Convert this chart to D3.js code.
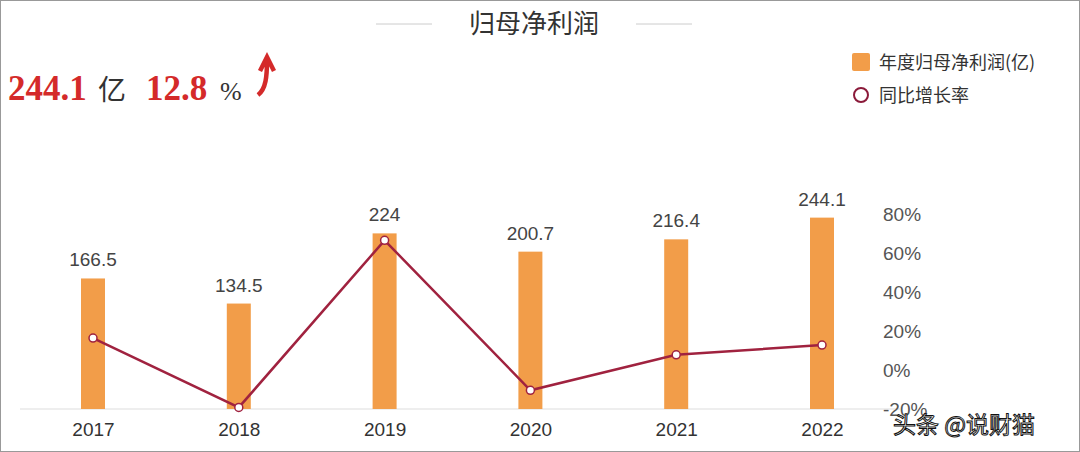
<!DOCTYPE html>
<html><head><meta charset="utf-8">
<script src="https://cdn.jsdelivr.net/npm/d3@7"></script>
<style>body{margin:0;background:#fff}svg{font-family:"Noto Sans CJK SC","Liberation Sans",sans-serif}</style>
</head><body><div id="chart"></div>
<script>
const years = ['2017','2018','2019','2020','2021','2022'];
const profit = [166.5, 134.5, 224, 200.7, 216.4, 244.1];
const growth = [16.4, -19.2, 66.5, -10.4, 7.8, 12.8];
const pctTicks = [-20, 0, 20, 40, 60, 80];

const W = 1080, H = 452;
const svg = d3.select('#chart').append('svg').attr('width', W).attr('height', H);
svg.append('rect').attr('x', 0.5).attr('y', 0.5).attr('width', W - 1).attr('height', H - 1)
  .attr('fill', '#fff').attr('stroke', '#999');

// title
svg.append('text').attr('x', 534).attr('y', 33).attr('text-anchor', 'middle')
  .attr('font-size', 26).attr('fill', '#333').text('归母净利润');
svg.append('line').attr('x1', 376).attr('x2', 432).attr('y1', 24).attr('y2', 24).attr('stroke', '#ccc');
svg.append('line').attr('x1', 636).attr('x2', 692).attr('y1', 24).attr('y2', 24).attr('stroke', '#ccc');

// headline
const red = (t, xx) => svg.append('text').attr('x', xx).attr('y', 100).attr('font-size', 35)
  .attr('font-family', 'Liberation Serif').attr('font-weight', 'bold').attr('fill', '#d42a2a').text(t);
red('244.1', 8);
red('12.8', 146);
svg.append('text').attr('x', 98).attr('y', 100).attr('font-size', 28).attr('fill', '#333').text('亿');
svg.append('text').attr('x', 220).attr('y', 100).attr('font-size', 26).attr('font-family', 'Liberation Serif').attr('fill', '#333').text('%');
svg.append('path').attr('d', 'M258,95 C266,89 267,76 267,60 M260,71 L267,57 L274,71')
  .attr('stroke', '#d42a2a').attr('stroke-width', 4.5).attr('fill', 'none');

// legend
svg.append('rect').attr('x', 852).attr('y', 53).attr('width', 18).attr('height', 18).attr('rx', 2).attr('fill', '#f29d49');
svg.append('text').attr('x', 879).attr('y', 69).attr('font-size', 18).attr('fill', '#333').text('年度归母净利润(亿)');
svg.append('circle').attr('cx', 861).attr('cy', 95).attr('r', 7).attr('fill', '#fff').attr('stroke', '#8b1a3a').attr('stroke-width', 2);
svg.append('text').attr('x', 879).attr('y', 102).attr('font-size', 18).attr('fill', '#333').text('同比增长率');

// scales
const x = d3.scalePoint().domain(years).range([93, 822]);
const yBar = d3.scaleLinear().domain([0, 250]).range([409, 213]);
const yPct = d3.scaleLinear().domain([-20, 80]).range([409, 214]);

svg.append('line').attr('x1', 20).attr('x2', 900).attr('y1', 409).attr('y2', 409).attr('stroke', '#ddd');

svg.selectAll('.bar').data(profit).join('rect')
  .attr('x', (d, i) => x(years[i]) - 12).attr('width', 24)
  .attr('y', d => yBar(d)).attr('height', d => 409 - yBar(d)).attr('fill', '#f29d49');
svg.selectAll('.val').data(profit).join('text')
  .attr('x', (d, i) => x(years[i])).attr('y', d => yBar(d) - 12)
  .attr('text-anchor', 'middle').attr('font-size', 19).attr('fill', '#444')
  .attr('font-family', 'Liberation Sans').text(d => d);

// x axis labels
const xa = svg.append('g').attr('transform', 'translate(0,409)')
  .call(d3.axisBottom(x).tickSize(0).tickPadding(14));
xa.select('.domain').remove();
xa.selectAll('text').attr('font-size', 19).attr('fill', '#333').attr('font-family', 'Liberation Sans');

// right axis
const ya = svg.append('g').attr('transform', 'translate(880,0)')
  .call(d3.axisRight(yPct).tickValues(pctTicks).tickSize(0).tickFormat(d => d + '%'));
ya.select('.domain').remove();
ya.selectAll('text').attr('font-size', 19).attr('fill', '#555').attr('font-family', 'Liberation Sans');

// growth line
const line = d3.line().x((d, i) => x(years[i])).y(d => yPct(d));
svg.append('path').datum(growth).attr('d', line).attr('fill', 'none').attr('stroke', '#a0223f').attr('stroke-width', 2.5);
svg.selectAll('.pt').data(growth).join('circle')
  .attr('cx', (d, i) => x(years[i])).attr('cy', d => yPct(d)).attr('r', 4)
  .attr('fill', '#fff').attr('stroke', '#a0223f').attr('stroke-width', 1.5);

// watermark
svg.append('text').attr('x', 893).attr('y', 433).attr('font-size', 23)
  .attr('fill', '#fff').attr('stroke', '#111').attr('stroke-width', 1).text('头条 @说财猫');
</script></body></html>
